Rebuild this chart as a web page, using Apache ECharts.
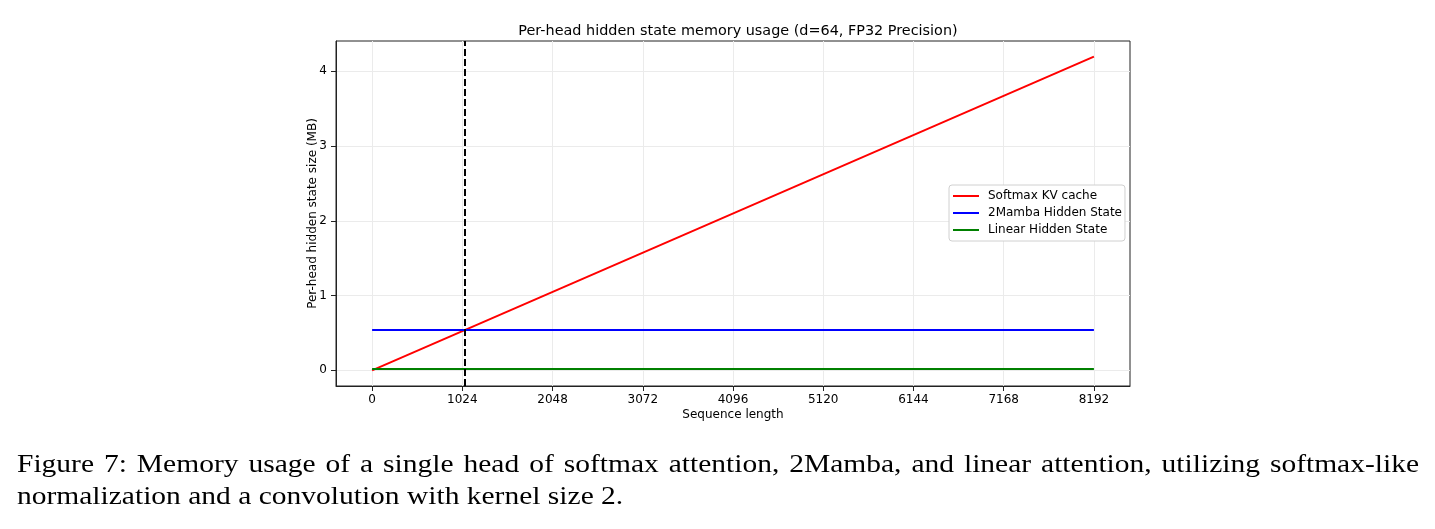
<!DOCTYPE html>
<html><head><meta charset="utf-8">
<script src="https://cdn.jsdelivr.net/npm/echarts@6/dist/echarts.min.js"></script>
<style>html,body{margin:0;padding:0;background:#fff}#c{width:1435px;height:529px}</style>
</head><body><div id="c"></div>
<script>
const xTicks = [0,1024,2048,3072,4096,5120,6144,7168,8192];
const yTicks = [0,1,2,3,4];
const seqEnds = [0,8192];
const softmaxKV = [0,4.194];
const mambaState = [0.54,0.54];
const linearState = [0.016,0.016];
const crossover = 1056;
const seriesNames = ['Softmax KV cache','2Mamba Hidden State','Linear Hidden State'];
const seriesColors = ['#ff0000','#0000ff','#008000'];
const titleText = 'Per-head hidden state memory usage (d=64, FP32 Precision)';
const xLabel = 'Sequence length';
const yLabel = 'Per-head hidden state size (MB)';
const caption1 = 'Figure 7: Memory usage of a single head of softmax attention, 2Mamba, and linear attention, utilizing softmax-like';
const caption2 = 'normalization and a convolution with kernel size 2.';

const chart = echarts.init(document.getElementById('c'), null, {renderer:'canvas'});
const font = 'DejaVu Sans';
const vals = [softmaxKV, mambaState, linearState];
const series = vals.map((v,i)=>({
  name: seriesNames[i], type:'line', showSymbol:false, symbol:'none',
  data: seqEnds.map((x,j)=>[x,v[j]]),
  lineStyle:{color:seriesColors[i], width:2}, itemStyle:{color:seriesColors[i]},
  z: 3, silent:true, animation:false
}));
series[0].markLine = {
  silent:true, symbol:'none', animation:false,
  label:{show:false},
  lineStyle:{color:'#000', type:[7,3], width:2},
  data:[{xAxis:crossover}]
};

// caption layout (justified first line, horizontally scaled serif text)
const capFont = '25px "Liberation Serif"';
const capScale = 1.18;
const capLeft = 17, capRight = 1419;
const mctx = document.createElement('canvas').getContext('2d');
mctx.font = capFont;
const words = caption1.split(' ');
const wW = words.map(w=>mctx.measureText(w).width);
const target = (capRight-capLeft)/capScale;
const sumW = wW.reduce((a,b)=>a+b,0);
const gap = (target - sumW)/(words.length-1);
let cx = 0;
const line1 = words.map((w,i)=>{ const t={type:'text', x:cx, y:465, style:{text:w, font:capFont, fill:'#000', verticalAlign:'middle'}}; cx += wW[i]+gap; return t; });
const captionGroup = {type:'group', x:capLeft, y:0, scaleX:capScale, scaleY:1, children: line1.concat([
  {type:'text', x:0, y:497, style:{text:caption2, font:capFont, fill:'#000', verticalAlign:'middle'}}
])};

chart.setOption({
  animation:false,
  title:{text:titleText, left:733, top:19, textAlign:'center',
    textStyle:{fontFamily:font, fontSize:14.4, fontWeight:'normal', color:'#000'}},
  grid:{left:336, top:41, right:305, bottom:143, show:true, borderColor:'#222', borderWidth:1, backgroundColor:'#fff'},
  xAxis:{type:'value', min:-409.6, max:8601.6,
    name:xLabel, nameLocation:'middle', nameGap:23, nameMoveOverlap:false,
    nameTextStyle:{fontFamily:font, fontSize:12, color:'#000'},
    axisLine:{show:true, onZero:false, lineStyle:{color:'#222', width:1}},
    axisTick:{show:true, customValues:xTicks, length:5, lineStyle:{color:'#222'}},
    axisLabel:{customValues:xTicks, fontFamily:font, fontSize:12, color:'#000', margin:8, formatter:v=>String(v)},
    splitLine:{show:true, lineStyle:{color:'#ebebeb', width:1}}
  },
  yAxis:{type:'value', min:-0.21, max:4.404,
    name:yLabel, nameLocation:'middle', nameGap:17, nameRotate:90, nameMoveOverlap:false,
    nameTextStyle:{fontFamily:font, fontSize:12, color:'#000'},
    axisLine:{show:true, onZero:false, lineStyle:{color:'#222', width:1}},
    axisTick:{show:true, customValues:yTicks, length:5, lineStyle:{color:'#222'}},
    axisLabel:{customValues:yTicks, fontFamily:font, fontSize:12, color:'#000', margin:9, formatter:v=>String(v)},
    splitLine:{show:true, lineStyle:{color:'#ebebeb', width:1}}
  },
  legend:{orient:'vertical', left:949, top:185,
    data:seriesNames, icon:'rect', itemWidth:26, itemHeight:2, itemGap:5,
    padding:[5,3,5,4],
    borderColor:'#d0d0d0', borderWidth:1, borderRadius:3, backgroundColor:'#fff',
    textStyle:{fontFamily:font, fontSize:12, color:'#000', padding:[0,0,0,4]}},
  graphic:[captionGroup],
  series: series
});
</script></body></html>
